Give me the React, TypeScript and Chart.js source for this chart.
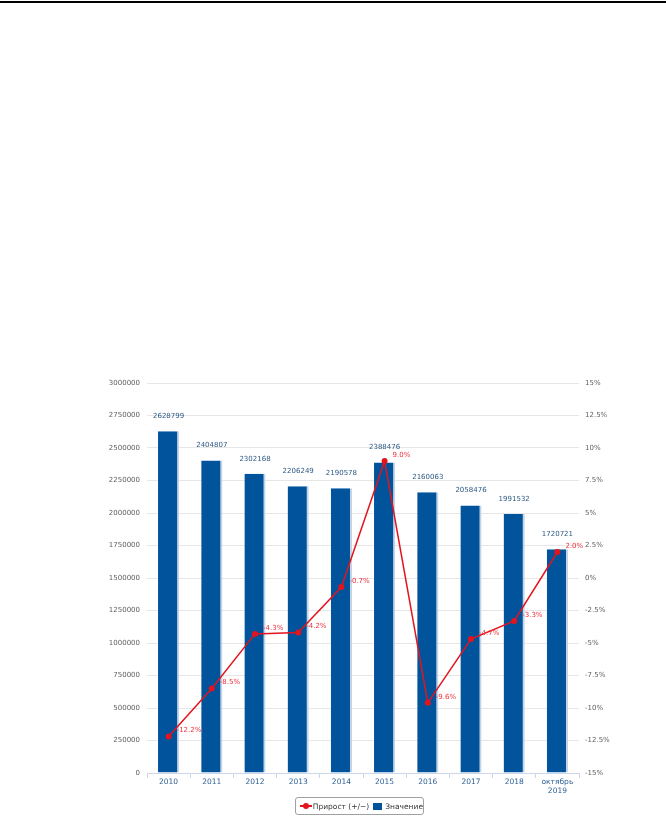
import React, { useEffect, useRef } from "react";
import { Chart, registerables } from "chart.js";

Chart.register(...registerables);

const categories: (string | string[])[] = ["2010", "2011", "2012", "2013", "2014", "2015", "2016", "2017", "2018", ["октябрь", "2019"]];
const values: number[] = [2628799, 2404807, 2302168, 2206249, 2190578, 2388476, 2160063, 2058476, 1991532, 1720721];
const growth: number[] = [-12.2, -8.5, -4.3, -4.2, -0.7, 9.0, -9.6, -4.7, -3.3, 2.0];
const growthLabels: string[] = ["-12.2%", "-8.5%", "-4.3%", "-4.2%", "-0.7%", "9.0%", "-9.6%", "-4.7%", "-3.3%", "2.0%"];
const seriesNames: string[] = ["Прирост (+/−)", "Значение"];

const BAR_COLOR = "#01549b";
const LINE_COLOR = "#e3141d";
const FONT = "'DejaVu Sans', Verdana, sans-serif";

const labelsPlugin = {
  id: "valueLabels",
  afterDatasetsDraw(chart: any) {
    const ctx = chart.ctx;
    ctx.save();
    ctx.font = `7px ${FONT}`;
    const barMeta = chart.getDatasetMeta(1);
    ctx.fillStyle = "#2d5a85";
    ctx.textAlign = "center";
    ctx.textBaseline = "middle";
    barMeta.data.forEach((el: any, i: number) => {
      ctx.fillText(String(values[i]), el.x, el.y - 15);
    });
    const lineMeta = chart.getDatasetMeta(0);
    ctx.fillStyle = "#f0303a";
    ctx.textAlign = "left";
    lineMeta.data.forEach((el: any, i: number) => {
      ctx.fillText(growthLabels[i], el.x + 8, el.y - 6);
    });
    ctx.restore();
  },
};

export default function App() {
  const ref = useRef<HTMLCanvasElement | null>(null);
  useEffect(() => {
    if (!ref.current) return;
    const chart = new Chart(ref.current, {
      type: "bar",
      data: {
        labels: categories as any,
        datasets: [
          {
            type: "line",
            label: seriesNames[0],
            data: growth,
            yAxisID: "y1",
            borderColor: LINE_COLOR,
            backgroundColor: LINE_COLOR,
            borderWidth: 1.5,
            pointRadius: 3,
            pointBorderWidth: 0,
            pointBackgroundColor: LINE_COLOR,
            tension: 0,
            order: 0,
          } as any,
          {
            type: "bar",
            label: seriesNames[1],
            data: values,
            yAxisID: "y",
            backgroundColor: BAR_COLOR,
            borderColor: "#c3d4e6",
            borderWidth: { top: 0, right: 2, bottom: 0, left: 0 },
            borderSkipped: false,
            barPercentage: 0.49,
            categoryPercentage: 1,
            order: 1,
          } as any,
        ],
      },
      options: {
        responsive: false,
        animation: false,
        layout: { padding: { top: 23, bottom: 0, left: 0, right: 0 } },
        plugins: {
          legend: { display: false },
          tooltip: { enabled: false },
        },
        scales: {
          x: {
            offset: true,
            grid: {
              display: true,
              drawOnChartArea: false,
              color: "#ccd6eb",
              tickLength: 5,
              offset: true,
            },
            border: { color: "#ccd6eb" },
            ticks: {
              color: "#2f6195",
              font: { family: FONT, size: 7.5 },
              padding: 0,
              maxRotation: 0,
              autoSkip: false,
            },
            afterFit: (s: any) => {
              s.height = 27;
            },
          },
          y: {
            position: "left",
            min: 0,
            max: 3000000,
            ticks: {
              stepSize: 250000,
              color: "#606060",
              font: { family: FONT, size: 7 },
              padding: 7,
              callback: (v: any) => String(v),
            },
            grid: { color: "#e6e6e6", drawTicks: false },
            border: { display: false },
            afterFit: (s: any) => {
              s.width = 147;
            },
          },
          y1: {
            position: "right",
            min: -15,
            max: 15,
            ticks: {
              stepSize: 2.5,
              color: "#606060",
              font: { family: FONT, size: 7 },
              padding: 6,
              callback: (v: any) => `${v}%`,
            },
            grid: { drawOnChartArea: false, drawTicks: false },
            border: { display: false },
            afterFit: (s: any) => {
              s.width = 87;
            },
          },
        },
      } as any,
      plugins: [labelsPlugin],
    });
    return () => chart.destroy();
  }, []);

  return (
    <div style={{ position: "absolute", left: 0, top: 0, width: 666, height: 825, background: "#fff" }}>
      <div style={{ position: "absolute", left: 0, top: 1, width: 666, height: 2, background: "#000" }} />
      <canvas ref={ref} width={666} height={440} style={{ position: "absolute", left: 0, top: 360 }} />
      <div
        style={{
          position: "absolute",
          left: 295,
          top: 797,
          width: 129,
          height: 18,
          boxSizing: "border-box",
          border: "1px solid #a0a0a0",
          borderRadius: 3,
          display: "flex",
          alignItems: "center",
          fontFamily: FONT,
          fontSize: 7.5,
          color: "#333",
          whiteSpace: "nowrap",
        }}
      >
        <span style={{ position: "relative", display: "inline-block", width: 12, height: 7, marginLeft: 4, marginRight: 2 }}>
          <span style={{ position: "absolute", left: 0, top: 2.5, width: 12, height: 2, background: LINE_COLOR }} />
          <span style={{ position: "absolute", left: 3, top: 0, width: 6, height: 6, borderRadius: 3, background: LINE_COLOR, marginTop: 0.5 }} />
        </span>
        <span>{seriesNames[0]}</span>
        <span style={{ display: "inline-block", width: 10, height: 7, background: BAR_COLOR, marginLeft: 4, marginRight: 3 }} />
        <span>{seriesNames[1]}</span>
      </div>
    </div>
  );
}
